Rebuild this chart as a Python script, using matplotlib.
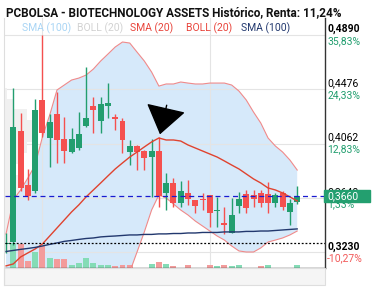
import matplotlib
matplotlib.use("Agg")
import matplotlib.pyplot as plt
from matplotlib.patches import Rectangle
import numpy as np
import math

plt.rcParams['font.family'] = ['Roboto', 'DejaVu Sans']

# --- Section 1: daily prices (Jun 24 .. Aug 19) ---
opens = [0.3300, 0.3315, 0.4158, 0.3747, 0.3701, 0.4395, 0.4107, 0.4288, 0.4095, 0.4001,
         0.4026, 0.4196, 0.4349, 0.4237, 0.4351, 0.4267, 0.4237, 0.4001, 0.4044, 0.4008,
         0.3963, 0.4006, 0.3688, 0.3759, 0.3612, 0.3683, 0.3632, 0.3640, 0.3670, 0.3548,
         0.3459, 0.3379, 0.3589, 0.3678, 0.3670, 0.3683, 0.3678, 0.3612, 0.3688, 0.3543,
         0.3620]
highs = [0.3380, 0.4484, 0.4293, 0.3866, 0.4400, 0.4890, 0.4286, 0.4453, 0.4267, 0.4183,
         0.4305, 0.4644, 0.4420, 0.4414, 0.4522, 0.4288, 0.4258, 0.4090, 0.4050, 0.4010,
         0.4095, 0.4110, 0.3836, 0.3803, 0.3777, 0.3785, 0.3632, 0.3683, 0.3670, 0.3658,
         0.3581, 0.3645, 0.3696, 0.3709, 0.3709, 0.3709, 0.3772, 0.3683, 0.3700, 0.3640,
         0.3740]
lows = [0.3230, 0.3290, 0.3700, 0.3632, 0.3683, 0.4115, 0.3886, 0.3912, 0.3912, 0.3990,
        0.4010, 0.4190, 0.4140, 0.4140, 0.4255, 0.4166, 0.3988, 0.3899, 0.3861, 0.3860,
        0.3658, 0.3581, 0.3556, 0.3581, 0.3581, 0.3594, 0.3531, 0.3556, 0.3429, 0.3429,
        0.3371, 0.3379, 0.3531, 0.3531, 0.3581, 0.3581, 0.3531, 0.3581, 0.3560, 0.3442,
        0.3600]
closes = [0.3305, 0.4191, 0.3722, 0.3665, 0.4318, 0.4145, 0.4229, 0.4090, 0.4008, 0.4097,
          0.4135, 0.4257, 0.4318, 0.4364, 0.4374, 0.4248, 0.4090, 0.4044, 0.4001, 0.3950,
          0.4006, 0.3663, 0.3759, 0.3612, 0.3701, 0.3642, 0.3589, 0.3635, 0.3536, 0.3552,
          0.3444, 0.3518, 0.3638, 0.3574, 0.3638, 0.3612, 0.3612, 0.3670, 0.3581, 0.3612,
          0.3660]
volumes = [0, 25000, 24000, 7000, 16500, 22000, 10000, 9000, 9000, 3000,
           5000, 10000, 5000, 3000, 3000, 2000, 3500, 3500, 0, 0,
           3700, 6500, 3700, 2000, 0, 2700, 0, 0, 2700, 2000,
           2700, 2000, 3000, 0, 0, 2000, 3000, 0, 0, 0,
           3000]

# --- Section 2: indicators ---
boll_upper = [0.3373, 0.3632, 0.3709, 0.3800, 0.3899, 0.4113, 0.4280, 0.4471, 0.4509, 0.4547,
              0.4562, 0.4585, 0.4631, 0.4692, 0.4745, 0.4799, 0.4837, 0.4829, 0.4760, 0.4692,
              0.4608, 0.4501, 0.4517, 0.4517, 0.4532, 0.4524, 0.4517, 0.4517, 0.4524, 0.4524,
              0.4524, 0.4509, 0.4463, 0.4395, 0.4303, 0.4219, 0.4105, 0.4044, 0.3998, 0.3937,
              0.3861]
sma20 = [0.3130, 0.3145, 0.3198, 0.3229, 0.3259, 0.3297, 0.3358, 0.3419, 0.3480, 0.3541,
         0.3595, 0.3656, 0.3709, 0.3762, 0.3816, 0.3869, 0.3915, 0.3960, 0.3998, 0.4037,
         0.4075, 0.4105, 0.4090, 0.4090, 0.4082, 0.4052, 0.4029, 0.4006, 0.3983, 0.3960,
         0.3930, 0.3899, 0.3869, 0.3831, 0.3793, 0.3762, 0.3724, 0.3709, 0.3686, 0.3656,
         0.3625]
boll_lower = [0.2886, 0.2657, 0.2687, 0.2657, 0.2619, 0.2482, 0.2436, 0.2368, 0.2451, 0.2535,
              0.2626, 0.2725, 0.2786, 0.2832, 0.2886, 0.2939, 0.2992, 0.3084, 0.3236, 0.3389,
              0.3556, 0.3671, 0.3648, 0.3602, 0.3556, 0.3518, 0.3472, 0.3434, 0.3396, 0.3358,
              0.3327, 0.3282, 0.3244, 0.3236, 0.3236, 0.3267, 0.3312, 0.3327, 0.3343, 0.3366,
              0.3396]
sma100 = [0.3240, 0.3248, 0.3256, 0.3263, 0.3271, 0.3282, 0.3294, 0.3305, 0.3317, 0.3324,
          0.3332, 0.3339, 0.3343, 0.3351, 0.3355, 0.3358, 0.3362, 0.3366, 0.3366, 0.3370,
          0.3370, 0.3374, 0.3374, 0.3377, 0.3377, 0.3381, 0.3381, 0.3385, 0.3385, 0.3385,
          0.3389, 0.3389, 0.3389, 0.3393, 0.3393, 0.3396, 0.3396, 0.3400, 0.3404, 0.3408,
          0.3412]

# volume by price (left profile)
profile_prices = [0.4445, 0.4364, 0.4281, 0.4198, 0.4115, 0.4032, 0.3949, 0.3866, 0.3783,
                  0.3700, 0.3617, 0.3534, 0.3451, 0.3368, 0.3285]
profile_vol = [2, 8, 22, 30, 28, 22, 18, 10, 14, 14, 10, 8, 8, 6, 6]

month_pos = [5, 28]
month_labels = ["Jul", "Ago"]
scale_levels = [0.4890, 0.4476, 0.4062, 0.3648, 0.3230]
base_price = 0.3600

GREEN = '#229e6f'
RED = '#f5504f'
VOL_GREEN = '#84dcb6'
VOL_RED = '#f39b9b'
BAND = '#f08a8a'
FILL = '#d6e9fa'
SMA20_C = '#e0432f'
SMA100_C = '#22386e'

fig = plt.figure(figsize=(3.79, 2.90), dpi=100)
ax = fig.add_axes([5 / 379, 22 / 290, 320 / 379, 250 / 290])
x = np.arange(len(closes))

# --- Bollinger band ---
ax.fill_between(x, boll_lower, boll_upper, color=FILL, lw=0, zorder=1)
ax.plot(x, boll_upper, color=BAND, lw=0.8, zorder=3)
ax.plot(x, boll_lower, color=BAND, lw=0.8, zorder=3)

# --- grid ---
for lv in scale_levels[:-1] + [0.3234]:
    ax.axhline(lv, color='#e4e4e4', lw=0.8, zorder=1.5)
for mp in month_pos:
    ax.axvline(mp, color='#e4e4e4', lw=0.8, zorder=1.5)

# --- volume profile ---
ax.barh(profile_prices, np.array(profile_vol) / 7.28, height=0.0083, left=-0.14,
        color='#f0f0f0', lw=0, zorder=1.6)

# --- volume bars ---
vol_top = 250000
vol_colors = [VOL_GREEN] + [VOL_GREEN if closes[i] >= closes[i - 1] else VOL_RED
                            for i in range(1, len(closes))]
ax.bar(x, np.array(volumes) / vol_top, width=0.82, bottom=0, color=vol_colors,
       transform=ax.get_xaxis_transform(), zorder=2)

# --- candles ---
for i in x:
    col = GREEN if closes[i] >= opens[i] else RED
    ax.vlines(i, lows[i], highs[i], color=col, lw=1, zorder=4)
    lo, hi = min(opens[i], closes[i]), max(opens[i], closes[i])
    ax.bar(i, max(hi - lo, 0.0006), bottom=lo, width=0.82, color=col, lw=0, zorder=4)

# --- averages ---
ax.plot(x, sma20, color=SMA20_C, lw=1, zorder=5)
ax.plot(x, sma100, color=SMA100_C, lw=1, zorder=5)

# reference lines
ax.axhline(closes[-1], color='#1a1ad0', lw=0.9, ls=(0, (4, 3)), zorder=6)
ax.axhline(closes[0], color='black', lw=0.9, ls=(0, (1.5, 1.5)), zorder=6)

# arrow marking the SMA20 peak
ax.annotate('', xy=(21.15, 0.4133), xytext=(22.07, 0.4355),
            arrowprops=dict(arrowstyle='-|>,head_length=1.0,head_width=0.72', color='black',
                            lw=1, shrinkA=0, shrinkB=0, mutation_scale=18), zorder=7)

ax.set_xlim(-0.14, 43.82)
ax.set_ylim(0.3114, 0.5020)
ax.set_xticks(month_pos)
ax.set_xticklabels(month_labels, fontsize=7.5, color='#222222')
ax.tick_params(axis='x', length=0, pad=4)
ax.set_yticks([])
for s in ['top', 'left']:
    ax.spines[s].set_visible(False)
ax.spines['right'].set_color('#333333')
ax.spines['bottom'].set_color('#333333')
ax.spines['right'].set_linewidth(1)
ax.spines['bottom'].set_linewidth(1)
ax.patch.set_alpha(0)

# --- right price scale ---
ytr = ax.get_yaxis_transform()
for k, lv in enumerate(scale_levels):
    bold = k in (0, len(scale_levels) - 1)
    pct = math.trunc((lv / base_price - 1) * 10000) / 100
    ax.text(1.007, lv + 0.0008, f"{lv:.4f}".replace('.', ','), transform=ytr, ha='left',
            va='bottom', fontsize=7.5, color='black', fontweight='bold' if bold else 'normal')
    ax.text(1.007, lv - 0.0006, f"{pct:.2f}%".replace('.', ','), transform=ytr, ha='left',
            va='top', fontsize=7.5, color=GREEN if pct >= 0 else '#f25a5a')

# last price tag
ax.add_patch(Rectangle((0.997, closes[-1] - 0.0045), 0.144, 0.009, transform=ytr,
                       color='#239f6f', clip_on=False, zorder=10))
ax.text(1.007, closes[-1], f"{closes[-1]:.4f}".replace('.', ','), transform=ytr, ha='left',
        va='center', fontsize=7.5, color='white', zorder=11)

# --- x axis band and frame ---
fig.patches.append(Rectangle((4 / 379, 5 / 290), 321 / 379, 17 / 290, transform=fig.transFigure,
                             facecolor='#f5f5f5', edgecolor='#dedede', lw=0.8, zorder=0))
fig.lines.append(plt.Line2D([4 / 379, 4 / 379], [5 / 290, 272 / 290], transform=fig.transFigure,
                            color='#dedede', lw=0.8))

# --- legend ---
legend = [("SMA (100)", '#a9d5f5'), ("BOLL (20)", '#d2d2d2'), ("SMA (20)", '#e8453c'),
          ("BOLL (20)", '#e8453c'), ("SMA (100)", '#22386e')]
leg_x = [22, 77, 130, 186, 241]
for (lab, c), px in zip(legend, leg_x):
    fig.text(px / 379, 1 - 28 / 290, lab, color=c, fontsize=7.5, va='center', ha='left')

# --- title ---
fig.text(6 / 379, 1 - 12.5 / 290, "PCBOLSA - BIOTECHNOLOGY ASSETS Histórico, Renta: 11,24%",
         fontsize=8.5, fontweight='bold', va='center', ha='left', color='#111111')

fig.savefig("out.png", dpi=100)
